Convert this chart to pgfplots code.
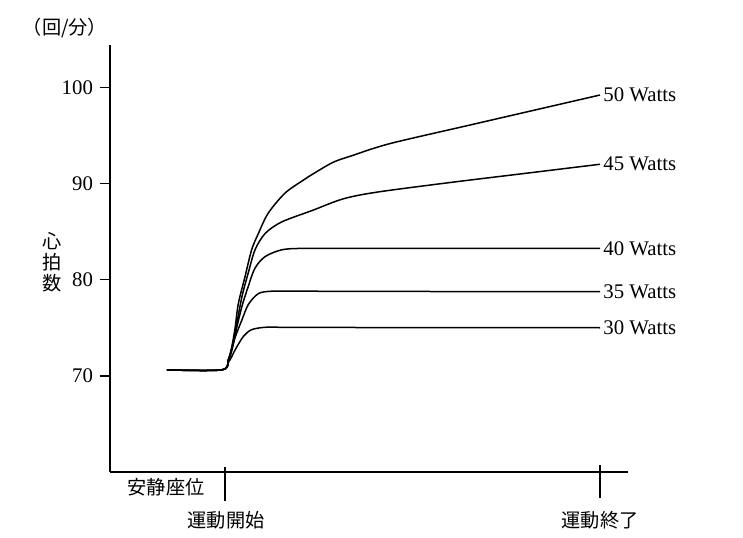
\documentclass[border=0pt]{standalone}
\usepackage{pgfplots}
\pgfplotsset{compat=1.18}
\usepackage{fontspec}
\setmainfont{Liberation Serif}
\newfontfamily\cjk{Noto Sans CJK JP}

\pgfplotsset{hr/.style={black, line width=0.75pt, mark=none, smooth, tension=0.5}}

\begin{document}
\begin{tikzpicture}
  % page = 743x537 px at 0.5pt per px; axis box south west = (0,0)
  \path[use as bounding box] (-55pt,-32.5pt) rectangle (316.5pt,236pt);
  \begin{axis}[
    scale only axis,
    width=259pt, height=213.5pt,
    xmin=-30.667, xmax=107.467,
    ymin=60, ymax=104.4,
    axis lines=left,
    axis line style={-, line width=0.9pt},
    ytick={70,80,90,100},
    xtick=\empty,
    tick align=outside,
    major tick length=5pt,
    tick style={line width=0.8pt, black},
    yticklabel style={font=\fontsize{10.4}{12}\selectfont},
    /pgf/number format/assume math mode=true,
    clip=false,
  ]
    % 30 Watts
    \addplot[hr] coordinates {
      (-15.5,70.62) (-0.9,70.62) (0.9,71.4) (1.8,72.0) (2.7,72.7) (4.9,74.1)
      (7.1,74.8) (10.7,75.05) (15,75.05) (30,75.03) (60,75.01) (100,75.0)
    };
    % 35 Watts
    \addplot[hr] coordinates {
      (-15.5,70.62) (-0.9,70.62) (0.9,71.6) (1.8,72.6) (2.7,74.0) (4.5,75.8)
      (6.2,77.4) (8.9,78.55) (12.5,78.8) (20,78.8) (40,78.78) (70,78.76) (100,78.75)
    };
    % 40 Watts
    \addplot[hr] coordinates {
      (-15.5,70.62) (-0.9,70.62) (0.9,71.7) (1.8,72.8) (2.7,74.3) (4.5,77.2)
      (6.2,79.3) (8,81.2) (10.7,82.4) (15.1,83.1) (20.5,83.25) (35,83.25)
      (65,83.25) (100,83.25)
    };
    % 45 Watts
    \addplot[hr] coordinates {
      (-15.5,70.62) (-0.9,70.62) (0.9,71.7) (1.8,72.8) (2.7,74.5) (4.5,78.2)
      (6.2,80.7) (8,83.1) (10.7,84.8) (15.1,86.0) (23.3,87.2) (31.5,88.4)
      (40.5,89.1) (60,90.1) (80,91.05) (100,92.0)
    };
    % 50 Watts
    \addplot[hr] coordinates {
      (-15.5,70.62) (-0.9,70.62) (0.9,71.7) (1.8,73.0) (2.7,75.0) (3.55,77.5)
      (5.33,80.3) (7.1,83.1) (8.9,84.8) (11.5,86.9) (16,89.0) (20.9,90.35)
      (23.5,91.0) (28.8,92.2) (33.9,92.9) (44,94.15) (65,96.05) (85,97.85)
      (100,99.2)
    };

    \begin{scope}[every node/.style={anchor=west, inner sep=1.5pt, font=\fontsize{10.4}{12}\selectfont}]
      \node at (axis cs:100,99.2) {50 Watts};
      \node at (axis cs:100,92.0) {45 Watts};
      \node at (axis cs:100,83.25) {40 Watts};
      \node at (axis cs:100,78.75) {35 Watts};
      \node at (axis cs:100,75.0) {30 Watts};
    \end{scope}
  \end{axis}

  % phase marks on the time axis
  \draw[line width=0.8pt] (57.5pt,2.5pt) -- (57.5pt,-14.5pt);
  \draw[line width=0.8pt] (245pt,3.5pt) -- (245pt,-13pt);

  \begin{scope}[every node/.style={inner sep=0pt, font=\cjk\fontsize{9.6}{10.5}\selectfont}]
    \node at (-22.5pt,222pt) {（回/分）};
    \node[align=center] at (-29pt,105pt) {心\\拍\\数};
    \node at (28pt,-7.5pt) {安静座位};
    \node at (58pt,-24pt) {運動開始};
    \node at (245pt,-24pt) {運動終了};
  \end{scope}
\end{tikzpicture}
\end{document}
